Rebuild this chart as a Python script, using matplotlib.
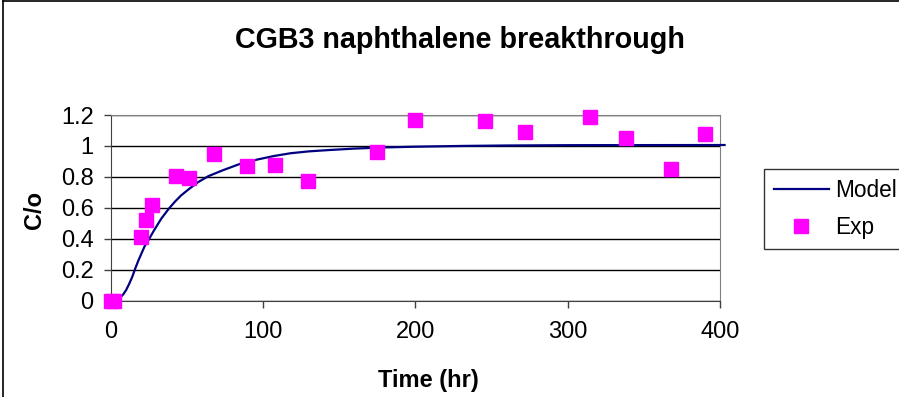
import matplotlib.pyplot as plt
from matplotlib.lines import Line2D

plt.rcParams['font.family'] = ['Liberation Sans', 'DejaVu Sans']

# данные
model_time = [0, 4, 6, 8, 10, 12, 14, 16, 18, 20, 22, 24.5, 28, 33, 38, 42, 46, 51, 57, 64,
              74, 85, 96, 107, 118, 130, 144, 160, 178, 199, 230, 260, 300, 403]
model_c = [0, 0.008, 0.02, 0.04, 0.07, 0.11, 0.155, 0.21, 0.26, 0.305, 0.35, 0.39, 0.45, 0.53,
           0.595, 0.64, 0.68, 0.72, 0.765, 0.805, 0.845, 0.885, 0.912, 0.935, 0.953, 0.965,
           0.974, 0.983, 0.99, 0.995, 1.0, 1.003, 1.005, 1.006]

exp_time = [0, 2, 19.7, 22.8, 26.7, 42.7, 51.4, 67.4, 89.1, 108, 129.6,
            174.5, 199.7, 245.4, 272, 314.8, 338.3, 368, 390]
exp_c = [0, 0, 0.41, 0.52, 0.62, 0.805, 0.79, 0.95, 0.87, 0.88, 0.775,
         0.96, 1.17, 1.16, 1.09, 1.19, 1.05, 0.85, 1.08]

x_ticks = [0, 100, 200, 300, 400]
y_ticks = [0, 0.2, 0.4, 0.6, 0.8, 1, 1.2]
y_labels = ['0', '0.2', '0.4', '0.6', '0.8', '1', '1.2']

W, H = 899, 397
fig = plt.figure(figsize=(W / 100, H / 100), dpi=100)
ax = fig.add_axes([111 / W, 1 - 300.7 / H, (720 - 111) / W, (300.7 - 115) / H])

ax.plot(model_time, model_c, color='#000080', linewidth=1.6, label='Model', clip_on=False, zorder=3)
ax.plot(exp_time, exp_c, linestyle='none', marker='s', markersize=9.5, color='#FF00FF',
        label='Exp', clip_on=False, zorder=4)

ax.set_xlim(0, 400)
ax.set_ylim(0, 1.2)
ax.set_xticks(x_ticks)
ax.set_yticks(y_ticks)
ax.set_yticklabels(y_labels)
ax.tick_params(axis='both', direction='out', length=5, width=1, color='#404040', labelsize=17)
ax.tick_params(axis='x', pad=9.5)
ax.tick_params(axis='y', pad=7.5)
ax.yaxis.grid(True, color='black', linewidth=1)
ax.set_axisbelow(True)
for s in ['top', 'right']:
    ax.spines[s].set_color('#808080')
for s in ['left', 'bottom']:
    ax.spines[s].set_color('#404040')

fig.text(460 / W, 1 - 40 / H, 'CGB3 naphthalene breakthrough', ha='center', va='center',
         fontsize=20.7, fontweight='bold')
fig.text(428 / W, 1 - 381 / H, 'Time (hr)', ha='center', va='center', fontsize=17, fontweight='bold')
fig.text(35 / W, 1 - 210 / H, 'C/o', ha='center', va='center', rotation=90, fontsize=17,
         fontweight='bold')

leg = fig.legend(loc='upper left', bbox_to_anchor=(764 / W, 1 - 169 / H), frameon=True,
                 fancybox=False, edgecolor='black', fontsize=16.3, handlelength=2.4,
                 borderpad=0.45, labelspacing=0.62, handletextpad=0.3, borderaxespad=0)
leg.get_frame().set_linewidth(1)

# рамка области диаграммы
fig.add_artist(Line2D([3 / W, 3 / W], [0, 1 - 1 / H], color='black', linewidth=1.2))
fig.add_artist(Line2D([3 / W, 1], [1 - 1 / H, 1 - 1 / H], color='black', linewidth=1.2))

fig.savefig('out.png', dpi=100)
